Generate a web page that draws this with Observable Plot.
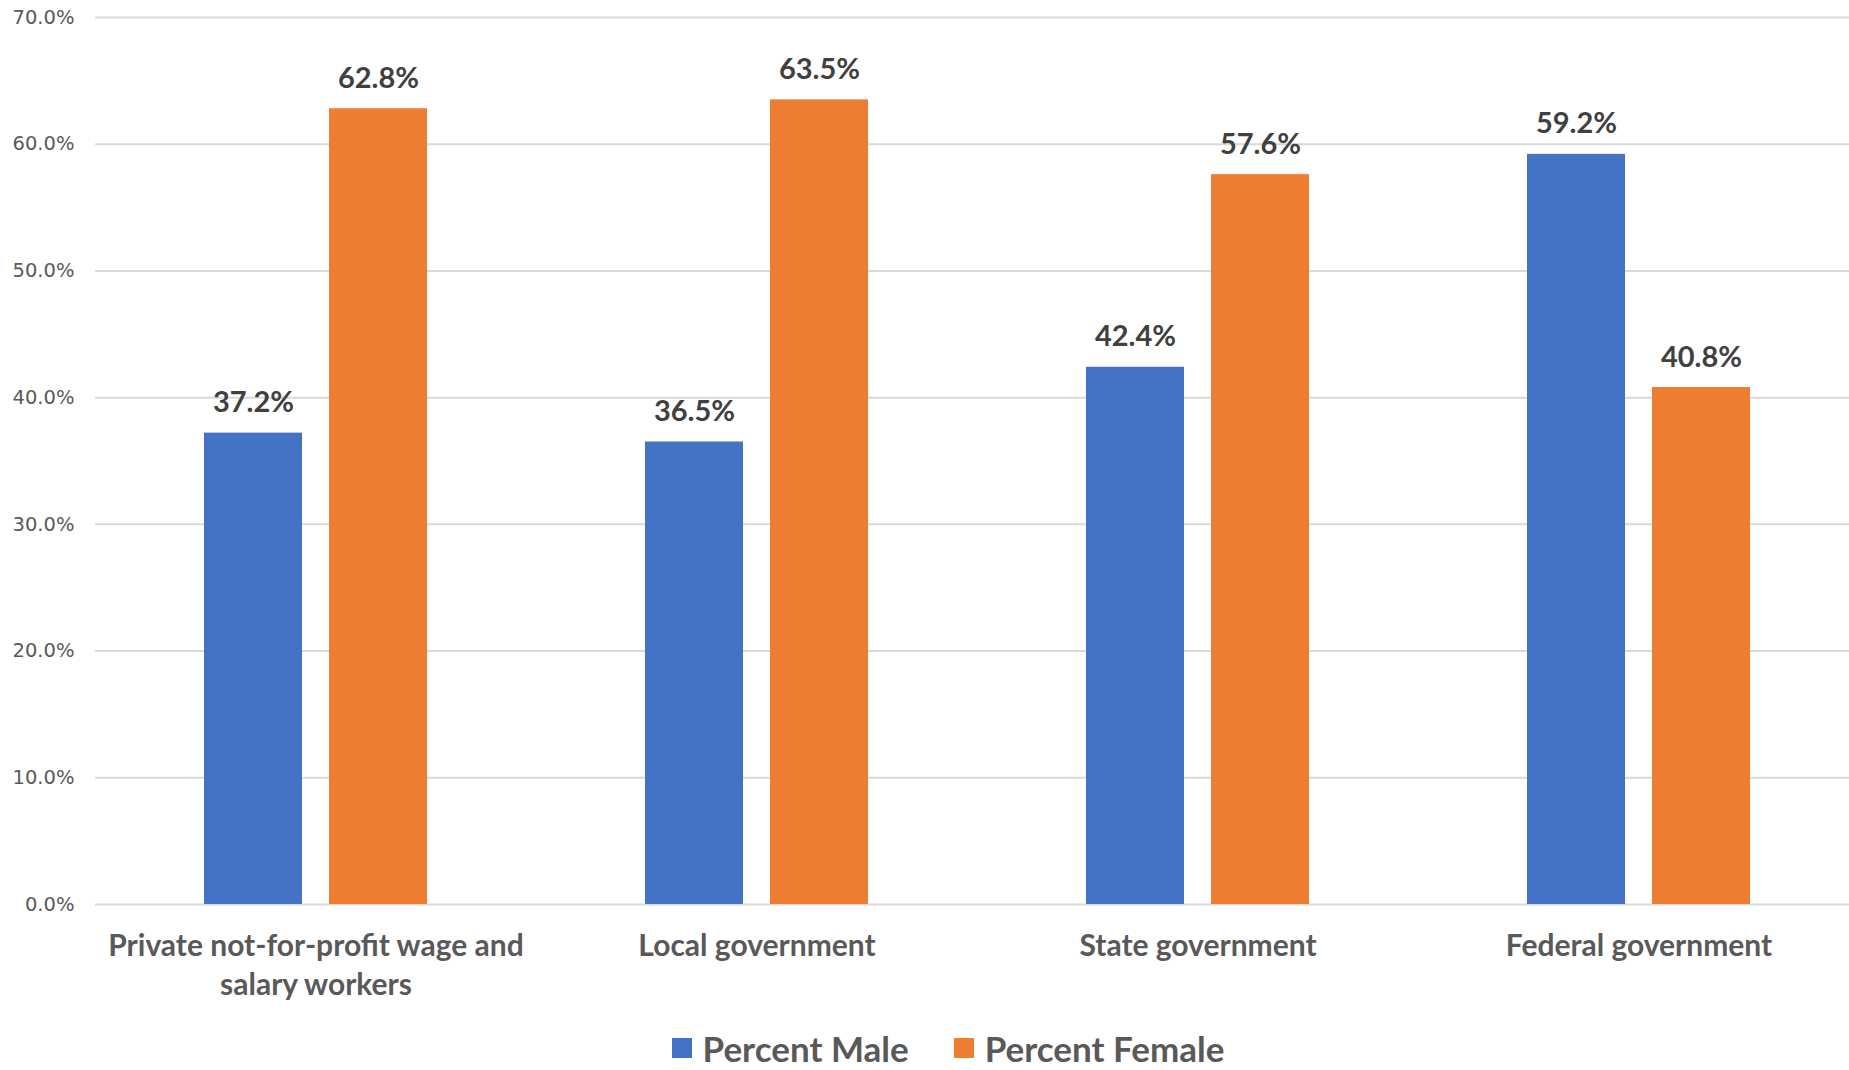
<!DOCTYPE html>
<html><head><meta charset="utf-8">
<script src="https://cdn.jsdelivr.net/npm/d3@7"></script>
<script src="https://cdn.jsdelivr.net/npm/@observablehq/plot@0.6"></script>
<style>
html,body{margin:0;padding:0;background:#fff;}
#chart{width:1849px;height:1070px;overflow:hidden;position:relative;background:#fff}
#chart svg{display:block}
.legend{display:flex;justify-content:center;align-items:center;padding-left:47px;height:96px;font-family:Lato,sans-serif;font-weight:700;font-size:35px;color:#595959}
.legend .item{display:flex;align-items:center}
.legend .item + .item{margin-left:45px}
.legend .sw{width:20px;height:20px;margin-right:11px;display:inline-block}
</style></head><body><div id="chart"></div><script>
const categories = ["Private not-for-profit wage and salary workers","Local government","State government","Federal government"];
const categoryLabels = ["Private not-for-profit wage and\nsalary workers","Local government","State government","Federal government"];
const series = ["Percent Male","Percent Female"];
const male = [37.2, 36.5, 42.4, 59.2];
const female = [62.8, 63.5, 57.6, 40.8];
const colors = ["#4472C4","#ED7D31"];
const yTicks = [0,10,20,30,40,50,60,70];

const data = categories.flatMap((c,i)=>[
  {category:c, series:series[0], value:male[i]},
  {category:c, series:series[1], value:female[i]}
]);
const labelOf = new Map(categories.map((c,i)=>[c,categoryLabels[i]]));
const fmt = d => d.toFixed(1) + "%";

const plot = Plot.plot({
  width:1849, height:1000,
  marginTop:17, marginBottom:96, marginLeft:94, marginRight:-10,
  style:{background:"#fff", overflow:"visible", fontFamily:"Lato, sans-serif"},
  fx:{domain:categories, paddingInner:0, paddingOuter:0, label:null},
  x:{domain:series, paddingInner:0.216, paddingOuter:0.872, axis:null},
  y:{domain:[0,70], label:null},
  color:{domain:series, range:colors},
  marks:[
    Plot.gridY({ticks:yTicks, stroke:"#d9d9d9", strokeOpacity:1, strokeWidth:2}),
    Plot.axisY({ticks:yTicks, anchor:"left", tickSize:0, tickPadding:21, tickFormat:fmt, label:null,
      fontSize:19.5, fontFamily:"DejaVu Sans, sans-serif", fill:"#595959"}),
    Plot.axisFx({anchor:"bottom", tickSize:0, tickPadding:24, tickFormat:c=>labelOf.get(c), label:null,
      fontSize:30, fontWeight:700, fontFamily:"Lato, sans-serif", fill:"#595959", lineHeight:1.3}),
    Plot.barY(data, {fx:"category", x:"series", y:"value", fill:"series"}),
    Plot.text(data, {fx:"category", x:"series", y:"value", text:d=>fmt(d.value), lineAnchor:"bottom", dy:-21,
      fontSize:29, fontWeight:700, fontFamily:"Lato, sans-serif", fill:"#404040"})
  ]
});
const chart = document.getElementById("chart");
chart.appendChild(plot);
const legend = document.createElement("div");
legend.className = "legend";
series.forEach((s,i)=>{
  const item = document.createElement("div");
  item.className = "item";
  const sw = document.createElement("span");
  sw.className = "sw";
  sw.style.background = plot.scale("color").apply(s);
  item.appendChild(sw);
  item.appendChild(document.createTextNode(s));
  legend.appendChild(item);
});
chart.appendChild(legend);
</script></body></html>
